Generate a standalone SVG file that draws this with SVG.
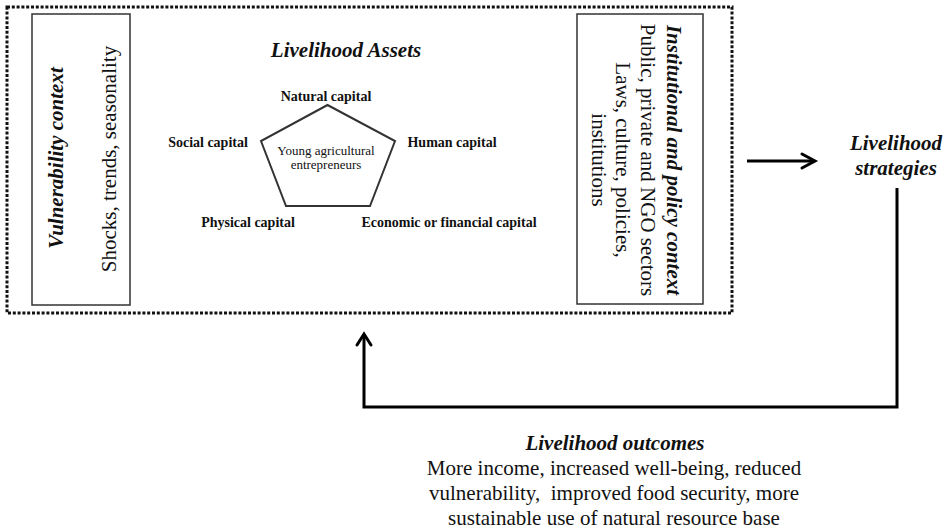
<svg xmlns="http://www.w3.org/2000/svg" width="944" height="531" viewBox="0 0 944 531">
  <defs>
    <style>
      .t { font-family: "Liberation Serif", "Times New Roman", serif; fill: #111; }
      .bi { font-weight: bold; font-style: italic; }
      .b { font-weight: bold; }
      .box { fill: #fff; stroke: #333; stroke-width: 1.5; }
      .conn { fill: none; stroke: #000; stroke-width: 3; stroke-linecap: butt; stroke-linejoin: miter; }
      .head { fill: none; stroke: #000; stroke-width: 3; stroke-linecap: round; stroke-linejoin: miter; }
    </style>
  </defs>
  <rect width="944" height="531" fill="#fff"/>

  <g id="frame">
    <rect x="7" y="7" width="725" height="306" fill="none" stroke="#111" stroke-width="3" stroke-dasharray="3 1.8"/>
  </g>

  <g id="vulnerability">
    <rect class="box" x="32" y="14" width="98" height="291"/>
    <text class="t bi" font-size="21" text-anchor="middle" transform="translate(63,158) rotate(-90)">Vulnerability context</text>
    <text class="t" font-size="21" text-anchor="middle" transform="translate(116,159) rotate(-90)">Shocks, trends, seasonality</text>
  </g>

  <g id="assets">
    <text class="t bi" font-size="21" text-anchor="middle" x="346" y="57">Livelihood Assets</text>
    <polygon points="327.5,105 261,141 286,206 370,206 395,141" fill="none" stroke="#333" stroke-width="2"/>
    <text class="t" font-size="13" text-anchor="middle" x="326" y="155">Young agricultural</text>
    <text class="t" font-size="13" text-anchor="middle" x="326" y="169">entrepreneurs</text>
    <text class="t b" font-size="14" text-anchor="middle" x="326" y="101">Natural capital</text>
    <text class="t b" font-size="14" text-anchor="middle" x="208" y="147">Social capital</text>
    <text class="t b" font-size="14" text-anchor="middle" x="452" y="147">Human capital</text>
    <text class="t b" font-size="14" text-anchor="middle" x="248" y="227">Physical capital</text>
    <text class="t b" font-size="14" text-anchor="middle" x="449" y="227">Economic or financial capital</text>
  </g>

  <g id="institutional">
    <rect class="box" x="577" y="14" width="126" height="290"/>
    <g transform="translate(0,160)">
      <text class="t bi" font-size="21" text-anchor="middle" transform="translate(667,0) rotate(90)">Institutional and policy context</text>
      <text class="t" font-size="21" text-anchor="middle" transform="translate(641,0) rotate(90)">Public, private and NGO sectors</text>
      <text class="t" font-size="21" text-anchor="middle" transform="translate(616,0) rotate(90)">Laws, culture, policies,</text>
      <text class="t" font-size="21" text-anchor="middle" transform="translate(592,0) rotate(90)">institutions</text>
    </g>
  </g>

  <g id="strategies">
    <text class="t bi" font-size="21" text-anchor="middle" x="896" y="150">Livelihood</text>
    <text class="t bi" font-size="21" text-anchor="middle" x="896" y="175">strategies</text>
  </g>

  <g id="outcomes">
    <text class="t bi" font-size="21" text-anchor="middle" x="615" y="450">Livelihood outcomes</text>
    <text class="t" font-size="21" text-anchor="middle" x="614" y="475">More income, increased well-being, reduced</text>
    <text class="t" font-size="21" text-anchor="middle" x="614" y="500" xml:space="preserve">vulnerability,  improved food security, more</text>
    <text class="t" font-size="21" text-anchor="middle" x="614" y="525">sustainable use of natural resource base</text>
  </g>

  <g id="connectors">
    <line class="conn" x1="747" y1="161" x2="815" y2="161"/>
    <polyline class="head" points="802,154 815,161 802,168"/>
    <polyline class="conn" points="897,188 897,407 364,407 364,335"/>
    <polyline class="head" points="357,345 364,334 371,345"/>
  </g>
</svg>
